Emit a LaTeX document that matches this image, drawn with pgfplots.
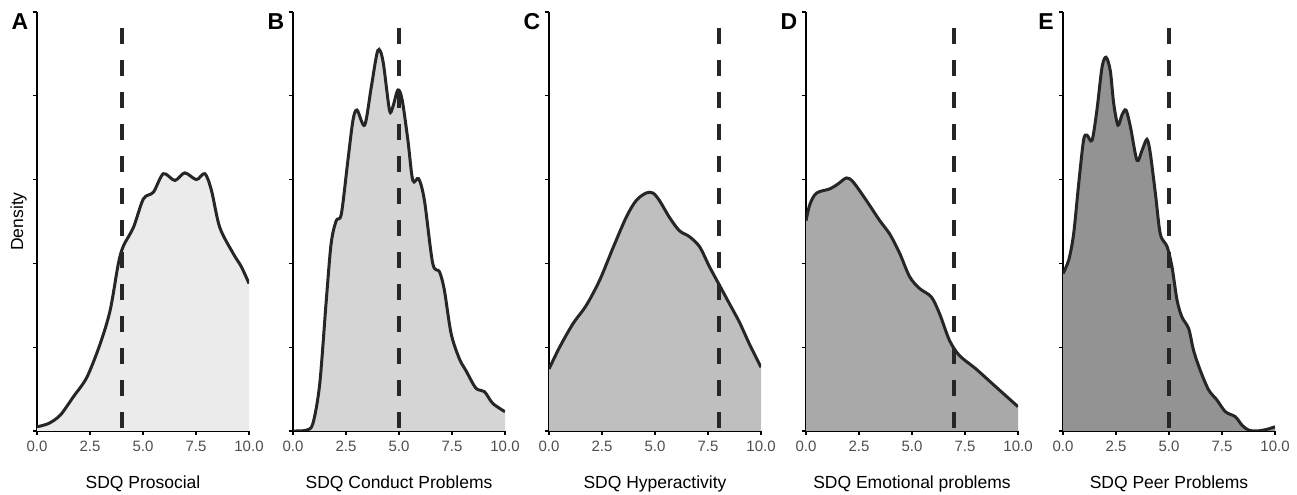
\documentclass[border=0pt]{standalone}
\usepackage{pgfplots}
\usepackage{pgfplotstable}
\pgfplotsset{compat=1.18}
\usepackage{fontspec}
\setmainfont{Liberation Sans}
\definecolor{curve}{HTML}{262626}
\definecolor{tickgray}{HTML}{4D4D4D}
\definecolor{fillA}{HTML}{EBEBEB}
\definecolor{fillB}{HTML}{D5D5D5}
\definecolor{fillC}{HTML}{BFBFBF}
\definecolor{fillD}{HTML}{A9A9A9}
\definecolor{fillE}{HTML}{939393}

\pgfplotstableread{
x y
0 0.05
0.55 0.09
1.1 0.19
1.72 0.41
2.35 0.64
2.98 1.04
3.45 1.44
3.84 2.0
4.08 2.21
4.55 2.43
5.02 2.77
5.49 2.85
5.96 3.07
6.5 2.99
6.97 3.08
7.52 3.0
7.92 3.07
8.23 2.87
8.62 2.43
9.25 2.12
9.64 1.96
10 1.76
}\dataA

\pgfplotstableread{
x y
0 0
0.63 0.01
0.94 0.09
1.26 0.56
1.57 1.56
1.8 2.24
2.04 2.51
2.28 2.59
2.59 3.23
2.83 3.71
3.02 3.83
3.38 3.65
3.69 4.1
4.0 4.54
4.24 4.42
4.55 3.83
4.71 3.87
4.95 4.07
5.15 3.95
5.42 3.47
5.65 2.99
5.93 3.01
6.2 2.75
6.59 2.0
6.91 1.9
7.14 1.68
7.46 1.16
7.85 0.86
8.16 0.72
8.63 0.51
9.03 0.47
9.42 0.33
10 0.23
}\dataB

\pgfplotstableread{
x y
0 0.74
0.5 1.0
1.13 1.28
1.76 1.5
2.39 1.8
3.01 2.18
3.64 2.55
4.11 2.75
4.58 2.84
4.9 2.84
5.21 2.75
5.68 2.55
6.15 2.39
6.62 2.32
7.1 2.2
7.57 1.96
8.04 1.74
8.51 1.52
8.98 1.30
9.45 1.04
10 0.76
}\dataC

\pgfplotstableread{
x y
0 2.51
0.19 2.71
0.5 2.84
1.13 2.89
1.52 2.95
1.91 3.02
2.23 2.97
2.85 2.75
3.48 2.51
3.95 2.35
4.42 2.12
4.89 1.84
5.36 1.70
5.91 1.6
6.3 1.4
6.77 1.08
7.24 0.9
8.02 0.74
8.81 0.56
10 0.29
}\dataD

\pgfplotstableread{
x y
0 1.88
0.27 2.04
0.5 2.35
0.74 2.95
0.97 3.47
1.13 3.53
1.37 3.47
1.6 3.83
1.84 4.34
2.03 4.46
2.23 4.3
2.39 3.91
2.59 3.65
2.78 3.77
2.97 3.83
3.18 3.63
3.49 3.23
3.73 3.35
3.96 3.48
4.12 3.31
4.36 2.83
4.59 2.35
4.91 2.2
5.14 1.96
5.38 1.56
5.61 1.36
5.93 1.22
6.16 0.96
6.48 0.72
6.87 0.49
7.26 0.37
7.66 0.23
8.13 0.17
8.44 0.07
8.76 0.01
9.15 0.0
9.62 0.02
10 0.05
}\dataE

\pgfplotsset{
  panel/.style={
    scale only axis, width=212bp, height=419bp, anchor=south west,
    xmin=0, xmax=10, ymin=0, ymax=5,
    clip mode=individual,
    axis x line=bottom, axis y line=left,
    axis line style={-, line width=1.5bp, color=black},
    tick align=outside, major tick length=4bp,
    tick style={line width=1.2bp, color=black},
    xtick={0,2.5,5,7.5,10},
    xticklabels={{\fontsize{15bp}{17bp}\selectfont 0.0},{\fontsize{15bp}{17bp}\selectfont 2.5},{\fontsize{15bp}{17bp}\selectfont 5.0},{\fontsize{15bp}{17bp}\selectfont 7.5},{\fontsize{15bp}{17bp}\selectfont 10.0}},
    ytick={0,1,2,3,4,5}, yticklabels={},
    xticklabel style={text=tickgray, yshift=-3bp},
  },
  dens/.style={curve, line width=3bp, smooth, tension=0.5},
  densfill/.style={fill=#1, draw=none, smooth, tension=0.5},
  cut/.style={curve, line width=4bp, dash pattern=on 16bp off 16bp},
}
\newcommand{\panellabel}[1]{\node[anchor=center, xshift=-17bp, yshift=-10bp, font=\fontsize{23bp}{26bp}\selectfont\bfseries] at (rel axis cs:0,1) {#1};}
\newcommand{\xlab}[1]{\node[anchor=center, yshift=-53bp, font=\fontsize{17.5bp}{20bp}\selectfont] at (rel axis cs:0.5,0) {#1};}

\begin{document}
\begin{tikzpicture}
\useasboundingbox (0,0) rectangle (1297bp,495bp);

\begin{axis}[panel, at={(37bp,64bp)}]
\addplot[densfill=fillA] table {\dataA} \closedcycle;
\addplot[dens] table {\dataA};
\addplot[cut] coordinates {(4,4.81) (4,0)};
\panellabel{A}
\xlab{SDQ Prosocial}
\node[rotate=90, anchor=center, font=\fontsize{17.5bp}{20bp}\selectfont] at (rel axis cs:-0.0873,0.5) {Density};
\end{axis}

\begin{axis}[panel, at={(293bp,64bp)}]
\addplot[densfill=fillB] table {\dataB} \closedcycle;
\addplot[dens] table {\dataB};
\addplot[cut] coordinates {(5,4.81) (5,0)};
\panellabel{B}
\xlab{SDQ Conduct Problems}
\end{axis}

\begin{axis}[panel, at={(549bp,64bp)}]
\addplot[densfill=fillC] table {\dataC} \closedcycle;
\addplot[dens] table {\dataC};
\addplot[cut] coordinates {(8,4.81) (8,0)};
\panellabel{C}
\xlab{SDQ Hyperactivity}
\end{axis}

\begin{axis}[panel, at={(806bp,64bp)}]
\addplot[densfill=fillD] table {\dataD} \closedcycle;
\addplot[dens] table {\dataD};
\addplot[cut] coordinates {(7,4.81) (7,0)};
\panellabel{D}
\xlab{SDQ Emotional problems}
\end{axis}

\begin{axis}[panel, at={(1063bp,64bp)}]
\addplot[densfill=fillE] table {\dataE} \closedcycle;
\addplot[dens] table {\dataE};
\addplot[cut] coordinates {(5,4.81) (5,0)};
\panellabel{E}
\xlab{SDQ Peer Problems}
\end{axis}
\end{tikzpicture}
\end{document}
